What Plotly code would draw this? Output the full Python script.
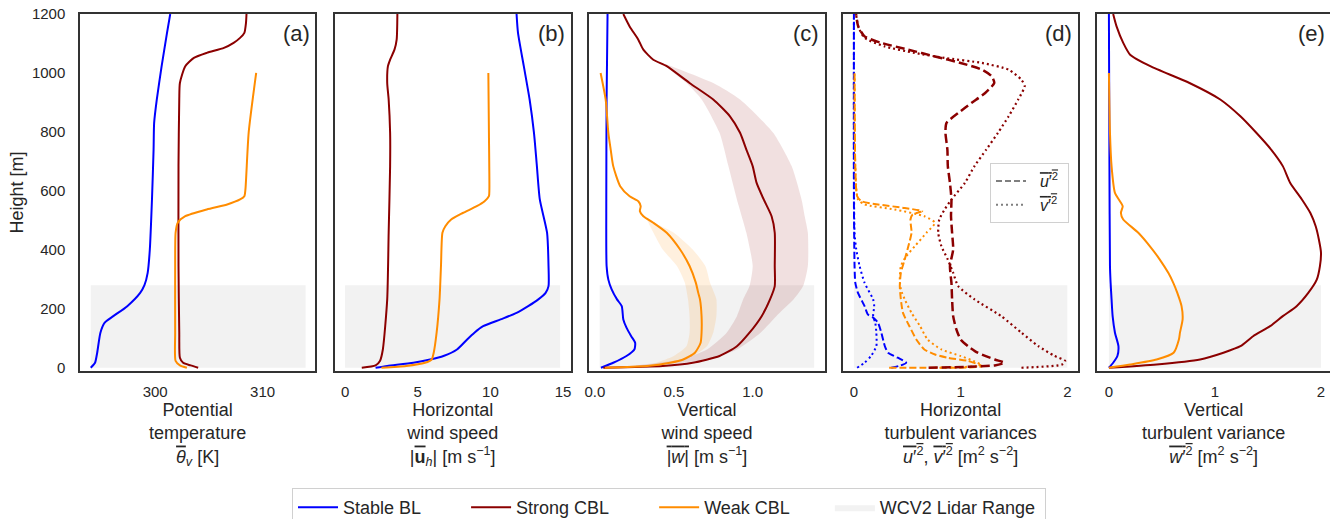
import plotly.graph_objects as go

# ---------------- data ----------------
# Panel (a) potential temperature [K]
a_stable_h = [0, 17, 51, 119, 153, 175, 209, 254, 280, 322, 401, 571, 740, 830, 910, 1023, 1136, 1200]
a_stable_t = [294.0, 294.4, 294.6, 294.9, 295.3, 296.1, 297.4, 298.6, 299.0, 299.3, 299.5, 299.7, 299.85, 299.9, 300.15, 300.6, 301.1, 301.4]
a_strong_h = [0, 8, 17, 34, 119, 345, 684, 910, 966, 1023, 1051, 1068, 1085, 1102, 1119, 1136, 1169, 1200]
a_strong_t = [304.0, 303.3, 302.6, 302.3, 302.24, 302.17, 302.17, 302.24, 302.3, 302.8, 303.6, 304.8, 306.4, 307.3, 307.9, 308.3, 308.45, 308.5]
a_weak_h = [0, 8, 23, 119, 345, 458, 492, 514, 537, 554, 571, 582, 605, 797, 1000]
a_weak_t = [302.95, 302.3, 301.9, 301.86, 301.86, 301.9, 302.1, 302.8, 304.8, 306.7, 307.9, 308.3, 308.4, 308.7, 309.4]

# Panel (b) horizontal wind speed [m/s]
b_stable_h = [0, 6, 17, 28, 40, 62, 96, 119, 141, 164, 186, 209, 232, 254, 277, 345, 458, 571, 684, 797, 910, 1023, 1136, 1200]
b_stable_u = [2.1, 2.9, 4.7, 5.85, 6.77, 7.7, 8.4, 8.9, 9.5, 10.7, 11.8, 12.6, 13.3, 13.8, 14.0, 14.0, 13.9, 13.4, 13.2, 13.0, 12.7, 12.3, 11.9, 11.8]
b_strong_h = [0, 8, 23, 62, 232, 458, 684, 797, 910, 966, 1023, 1045, 1079, 1113, 1200]
b_strong_u = [1.15, 2.1, 2.4, 2.6, 2.9, 3.0, 3.1, 3.1, 3.0, 2.9, 2.95, 3.1, 3.4, 3.55, 3.6]
b_weak_h = [0, 6, 17, 28, 51, 119, 232, 345, 458, 480, 503, 525, 548, 565, 582, 605, 797, 1000]
b_weak_u = [2.5, 4.2, 5.5, 5.96, 6.1, 6.3, 6.5, 6.6, 6.7, 6.9, 7.3, 8.1, 9.06, 9.6, 9.9, 9.93, 9.9, 9.86]

# Panel (c) vertical wind speed [m/s]
c_stable_h = [0, 17, 40, 62, 85, 107, 136, 164, 209, 232, 266, 299, 345, 571, 910, 1200]
c_stable_w = [0.038, 0.116, 0.2, 0.25, 0.255, 0.23, 0.2, 0.18, 0.17, 0.14, 0.106, 0.085, 0.074, 0.072, 0.074, 0.08]
c_strong_h = [0, 6, 17, 40, 73, 119, 175, 232, 277, 345, 458, 514, 571, 627, 684, 740, 797, 853, 910, 966, 1023, 1045, 1079, 1113, 1158, 1200]
c_strong_w = [0.053, 0.43, 0.62, 0.79, 0.90, 0.98, 1.057, 1.11, 1.14, 1.14, 1.14, 1.12, 1.07, 1.025, 1.0, 0.96, 0.92, 0.856, 0.75, 0.60, 0.455, 0.37, 0.307, 0.275, 0.22, 0.18]
c_strong_hi_h = [0, 6, 28, 62, 119, 175, 232, 277, 345, 458, 514, 571, 684, 797, 910, 966, 1034]
c_strong_hi = [0.053, 0.33, 0.71, 0.9, 1.05, 1.15, 1.26, 1.32, 1.35, 1.35, 1.33, 1.31, 1.247, 1.13, 0.92, 0.75, 0.43]
c_strong_lo_h = [0, 6, 28, 62, 119, 175, 232, 277, 345, 458, 571, 684, 797, 910, 966, 1000, 1034]
c_strong_lo = [0.053, 0.22, 0.54, 0.71, 0.835, 0.90, 0.94, 0.98, 1.0, 0.96, 0.90, 0.846, 0.79, 0.677, 0.58, 0.5, 0.43]
c_weak_h = [0, 6, 17, 28, 51, 85, 119, 175, 232, 254, 288, 345, 401, 458, 492, 514, 531, 548, 565, 582, 616, 684, 740, 797, 910, 1000]
c_weak_w = [0.063, 0.33, 0.476, 0.56, 0.634, 0.67, 0.676, 0.676, 0.666, 0.655, 0.64, 0.60, 0.54, 0.455, 0.37, 0.307, 0.285, 0.29, 0.275, 0.22, 0.16, 0.116, 0.1, 0.085, 0.068, 0.036]
c_weak_hi_h = [6, 17, 40, 73, 119, 175, 232, 288, 345, 401, 458, 503]
c_weak_hi = [0.33, 0.5, 0.62, 0.71, 0.75, 0.77, 0.77, 0.73, 0.70, 0.62, 0.5, 0.33]
c_weak_lo_h = [6, 17, 40, 73, 119, 175, 232, 288, 345, 401, 480, 503]
c_weak_lo = [0.33, 0.39, 0.5, 0.58, 0.60, 0.60, 0.59, 0.57, 0.52, 0.43, 0.35, 0.33]

# Panel (d) horizontal turbulent variances [m2/s2]
d_stable_u_h = [0, 8, 17, 34, 51, 73, 119, 153, 170, 181, 209, 254, 288, 345, 571, 1200]
d_stable_u = [0.35, 0.44, 0.49, 0.41, 0.32, 0.29, 0.257, 0.225, 0.18, 0.13, 0.1, 0.038, 0.013, 0.006, 0.0, 0.0]
d_stable_v_h = [0, 17, 40, 73, 119, 153, 175, 209, 232, 288, 345, 401, 458, 684, 1200]
d_stable_v = [0.03, 0.1, 0.16, 0.21, 0.21, 0.2, 0.18, 0.19, 0.18, 0.1, 0.053, 0.022, 0.006, 0.0, 0.0]
d_strong_u_h = [0, 8, 17, 28, 51, 73, 96, 130, 175, 232, 288, 345, 401, 458, 514, 571, 627, 684, 740, 797, 830, 864, 898, 932, 966, 989, 1011, 1034, 1056, 1079, 1102, 1124, 1158, 1200]
d_strong_u = [0.7, 1.32, 1.41, 1.32, 1.16, 1.07, 1.0, 0.96, 0.93, 0.92, 0.914, 0.9, 0.93, 0.92, 0.91, 0.914, 0.9, 0.88, 0.876, 0.858, 0.867, 0.977, 1.1, 1.23, 1.315, 1.29, 1.2, 1.0, 0.76, 0.51, 0.257, 0.1, 0.04, 0.02]
d_strong_v_h = [0, 11, 23, 40, 73, 119, 175, 232, 277, 322, 367, 412, 458, 503, 537, 571, 627, 684, 740, 797, 853, 910, 955, 977, 1011, 1034, 1051, 1068, 1090, 1119, 1158, 1200]
d_strong_v = [1.57, 1.95, 1.98, 1.88, 1.73, 1.57, 1.38, 1.13, 0.977, 0.93, 0.88, 0.82, 0.79, 0.80, 0.85, 0.914, 1.04, 1.13, 1.24, 1.35, 1.45, 1.54, 1.6, 1.57, 1.45, 1.2, 0.85, 0.57, 0.29, 0.1, 0.04, 0.02]
d_weak_u_h = [0, 5, 23, 34, 45, 62, 96, 141, 186, 232, 277, 322, 367, 412, 458, 503, 520, 531, 542, 554, 565, 582, 684, 1000]
d_weak_u = [0.33, 1.2, 1.07, 0.88, 0.76, 0.66, 0.585, 0.52, 0.46, 0.44, 0.43, 0.44, 0.476, 0.51, 0.54, 0.53, 0.55, 0.64, 0.476, 0.225, 0.07, 0.03, 0.013, 0.006]
d_weak_v_h = [0, 8, 23, 40, 62, 96, 141, 186, 232, 266, 299, 345, 378, 412, 458, 492, 514, 537, 554, 571, 684, 1000]
d_weak_v = [0.76, 1.2, 1.12, 1.0, 0.82, 0.69, 0.62, 0.54, 0.476, 0.44, 0.43, 0.44, 0.49, 0.57, 0.68, 0.76, 0.66, 0.38, 0.1, 0.038, 0.013, 0.006]

# Panel (e) vertical turbulent variance [m2/s2]
e_stable_h = [0, 17, 40, 73, 119, 175, 232, 288, 345, 684, 1200]
e_stable_w = [0.0, 0.04, 0.08, 0.09, 0.057, 0.035, 0.025, 0.016, 0.01, 0.005, 0.0]
e_strong_h = [0, 11, 28, 51, 73, 107, 141, 175, 209, 254, 299, 345, 390, 435, 480, 525, 571, 627, 684, 740, 797, 853, 910, 966, 1023, 1062, 1102, 1158, 1200]
e_strong_w = [0.0, 0.45, 0.86, 1.08, 1.24, 1.36, 1.52, 1.64, 1.77, 1.88, 1.96, 1.99, 2.0, 1.98, 1.95, 1.9, 1.82, 1.71, 1.64, 1.53, 1.39, 1.24, 1.05, 0.76, 0.39, 0.2, 0.135, 0.072, 0.04]
e_weak_h = [0, 11, 28, 51, 96, 119, 164, 209, 254, 288, 322, 367, 412, 458, 503, 525, 548, 565, 593, 684, 797, 1000]
e_weak_w = [0.0, 0.2, 0.45, 0.61, 0.66, 0.67, 0.695, 0.685, 0.645, 0.607, 0.56, 0.48, 0.387, 0.277, 0.135, 0.113, 0.13, 0.104, 0.057, 0.025, 0.01, 0.0]

# WCV2 lidar range (height top) and horizontal extent of the shaded band per panel
lidar_top = 280
lidar_x = {"a": (294.0, 314.0), "b": (0.0, 14.8), "c": (0.03, 1.39), "d": (0.0, 2.0), "e": (0.0, 2.0)}

panel_labels = ["(a)", "(b)", "(c)", "(d)", "(e)"]
series_names = ["Stable BL", "Strong CBL", "Weak CBL", "WCV2 Lidar Range"]

# ---------------- styling ----------------
C_STABLE = "#0000ff"
C_STRONG = "#8b0000"
C_WEAK = "#ff8c00"
C_LIDAR = "#f2f2f2"
TXT = "#262626"
FONT = "Liberation Sans, Arial, sans-serif"
LW = 2
NB = "\u00a0"
legend_pad = [8, 8, 7, 1]   # extra spacing after each legend label (in spaces)

fig = go.Figure()

def ax(i):
    return ("x" if i == 1 else f"x{i}"), ("y" if i == 1 else f"y{i}")

def lname(k):
    return series_names[k] + NB * legend_pad[k]

def add_band(i, key, show):
    xa, ya = ax(i)
    x0, x1 = lidar_x[key]
    fig.add_trace(go.Scatter(x=[x0, x1, x1, x0, x0], y=[0, 0, lidar_top, lidar_top, 0],
                             fill="toself", fillcolor=C_LIDAR, mode="lines",
                             line=dict(width=0, color=C_LIDAR), name=lname(3),
                             showlegend=show, legendrank=4, xaxis=xa, yaxis=ya, hoverinfo="skip"))

def add_line(i, x, y, color, name=None, show=False, dash="solid", width=LW, legend="legend", rank=1):
    xa, ya = ax(i)
    fig.add_trace(go.Scatter(x=x, y=y, mode="lines", line=dict(color=color, width=width, dash=dash, shape="spline", smoothing=0.6),
                             name=name, showlegend=show, legend=legend, legendrank=rank, xaxis=xa, yaxis=ya))

def add_fill(i, xlo, hlo, xhi, hhi, color):
    xa, ya = ax(i)
    fig.add_trace(go.Scatter(x=list(xhi) + list(xlo[::-1]), y=list(hhi) + list(hlo[::-1]),
                             fill="toself", fillcolor=color, mode="lines", line=dict(width=0, color=color, shape="spline", smoothing=0.6),
                             showlegend=False, xaxis=xa, yaxis=ya, hoverinfo="skip"))

# (a)
add_band(1, "a", True)
add_line(1, a_stable_t, a_stable_h, C_STABLE, lname(0), True, rank=1)
add_line(1, a_strong_t, a_strong_h, C_STRONG, lname(1), True, rank=2)
add_line(1, a_weak_t, a_weak_h, C_WEAK, lname(2), True, rank=3)
# (b)
add_band(2, "b", False)
add_line(2, b_stable_u, b_stable_h, C_STABLE)
add_line(2, b_strong_u, b_strong_h, C_STRONG)
add_line(2, b_weak_u, b_weak_h, C_WEAK)
# (c)
add_band(3, "c", False)
add_fill(3, c_strong_lo, c_strong_lo_h, c_strong_hi, c_strong_hi_h, "rgba(139,0,0,0.12)")
add_fill(3, c_weak_lo, c_weak_lo_h, c_weak_hi, c_weak_hi_h, "rgba(255,140,0,0.13)")
add_line(3, c_stable_w, c_stable_h, C_STABLE)
add_line(3, c_strong_w, c_strong_h, C_STRONG)
add_line(3, c_weak_w, c_weak_h, C_WEAK)
# (d)
DASH = "7px,3px"
DOT = "2px,3px"
add_band(4, "d", False)
add_line(4, d_stable_u, d_stable_u_h, C_STABLE, dash=DASH)
add_line(4, d_stable_v, d_stable_v_h, C_STABLE, dash=DOT)
add_line(4, d_weak_u, d_weak_u_h, C_WEAK, dash=DASH)
add_line(4, d_weak_v, d_weak_v_h, C_WEAK, dash=DOT)
add_line(4, d_strong_u, d_strong_u_h, C_STRONG, dash="9px,4px", width=2.5)
add_line(4, d_strong_v, d_strong_v_h, C_STRONG, dash=DOT, width=2.2)
# (d) inner legend entries
OV = '<span style="text-decoration:overline">'
fig.add_trace(go.Scatter(x=[None], y=[None], mode="lines", line=dict(color="#7f7f7f", width=2, dash="6px,3px"),
                         name=NB * 2 + OV + "<i>u</i>′<sup>2</sup></span>" + NB, legend="legend2", xaxis="x4", yaxis="y4"))
fig.add_trace(go.Scatter(x=[None], y=[None], mode="lines", line=dict(color="#7f7f7f", width=2, dash=DOT),
                         name=NB * 2 + OV + "<i>v</i>′<sup>2</sup></span>" + NB, legend="legend2", xaxis="x4", yaxis="y4"))
# (e)
add_band(5, "e", False)
add_line(5, e_stable_w, e_stable_h, C_STABLE)
add_line(5, e_strong_w, e_strong_h, C_STRONG)
add_line(5, e_weak_w, e_weak_h, C_WEAK)

# ---------------- layout ----------------
PL, PT, PW, PH = 80, 14, 1250, 357   # plot area in pixels
domains = [(0.0, 0.1882), (0.2038, 0.3926), (0.4074, 0.5958), (0.6106, 0.7984), (0.8138, 1.0)]
ranges = [(293.0, 314.9), (-0.71, 15.53), (-0.036, 1.457), (-0.1, 2.1), (-0.11, 2.085)]
tickvals = [[300, 310], [0, 5, 10, 15], [0.0, 0.5, 1.0], [0, 1, 2], [0, 1, 2]]
ticktext = [["300", "310"], ["0", "5", "10", "15"], ["0.0", "0.5", "1.0"], ["0", "1", "2"], ["0", "1", "2"]]
titles = [
    "Potential<br>temperature<br>" + OV + "<i>θ</i></span><sub><i>v</i></sub> [K]",
    "Horizontal<br>wind speed<br>|" + OV + "<b>u</b></span><sub><i>h</i></sub>| [m s<sup>−1</sup>]",
    "Vertical<br>wind speed<br>" + OV + "|<i>w</i>|</span> [m s<sup>−1</sup>]",
    "Horizontal<br>turbulent variances<br>" + OV + "<i>u</i>′<sup>2</sup></span>, " + OV + "<i>v</i>′<sup>2</sup></span> [m<sup>2</sup> s<sup>−2</sup>]",
    "Vertical<br>turbulent variance<br>" + OV + "<i>w</i>′<sup>2</sup></span> [m<sup>2</sup> s<sup>−2</sup>]",
]

layout = dict(
    width=1330, height=519,
    margin=dict(l=PL, r=0, t=PT, b=519 - PT - PH, autoexpand=False),
    paper_bgcolor="white", plot_bgcolor="white",
    font=dict(family=FONT, color=TXT, size=15),
    legend=dict(orientation="h", xref="paper", yref="paper", x=(292 - PL) / PW, xanchor="left",
                y=(PT + PH - 488) / PH, yanchor="top", font=dict(size=18, color=TXT),
                bordercolor="#d0d0d0", borderwidth=1, bgcolor="white", traceorder="normal",
                itemwidth=40),
    legend2=dict(xref="paper", yref="paper", x=(990 - PL) / PW, xanchor="left",
                 y=(PT + PH - 163) / PH, yanchor="top", font=dict(size=16, color=TXT),
                 bordercolor="#d0d0d0", borderwidth=1, bgcolor="white", itemwidth=30),
    showlegend=True,
)

for i in range(1, 6):
    xkey = "xaxis" if i == 1 else f"xaxis{i}"
    ykey = "yaxis" if i == 1 else f"yaxis{i}"
    xa, ya = ax(i)
    layout[xkey] = dict(domain=list(domains[i - 1]), range=list(ranges[i - 1]), anchor=ya,
                        tickvals=tickvals[i - 1], ticktext=ticktext[i - 1], showgrid=False, zeroline=False,
                        showline=True, linecolor="#333333", linewidth=1.5, mirror=True,
                        ticks="outside", ticklen=6, tickcolor="rgba(0,0,0,0)",
                        tickfont=dict(size=15, color=TXT),
                        title=dict(text=titles[i - 1], font=dict(size=18, color=TXT), standoff=4))
    ydict = dict(domain=[0, 1], range=[-11, 1200], anchor=xa, showgrid=False, zeroline=False,
                 showline=True, linecolor="#333333", linewidth=1.5, mirror=True,
                 tickvals=[0, 200, 400, 600, 800, 1000, 1200], showticklabels=(i == 1),
                 ticks="outside" if i == 1 else "", ticklen=10, tickcolor="rgba(0,0,0,0)",
                 tickfont=dict(size=15, color=TXT))
    if i == 1:
        ydict["title"] = dict(text="Height [m]", font=dict(size=18, color=TXT), standoff=4)
    else:
        ydict["matches"] = "y"
    layout[ykey] = ydict

fig.update_layout(**layout)

for i, lab in enumerate(panel_labels, start=1):
    xa, ya = ax(i)
    fig.add_annotation(text=lab, xref=f"{xa} domain", yref=f"{ya} domain", x=0.985, y=0.985,
                       xanchor="right", yanchor="top", showarrow=False, font=dict(size=22, color=TXT))

fig.write_html("out.html", config={"displayModeBar": False},
               post_script="document.body.style.margin='0px';")
